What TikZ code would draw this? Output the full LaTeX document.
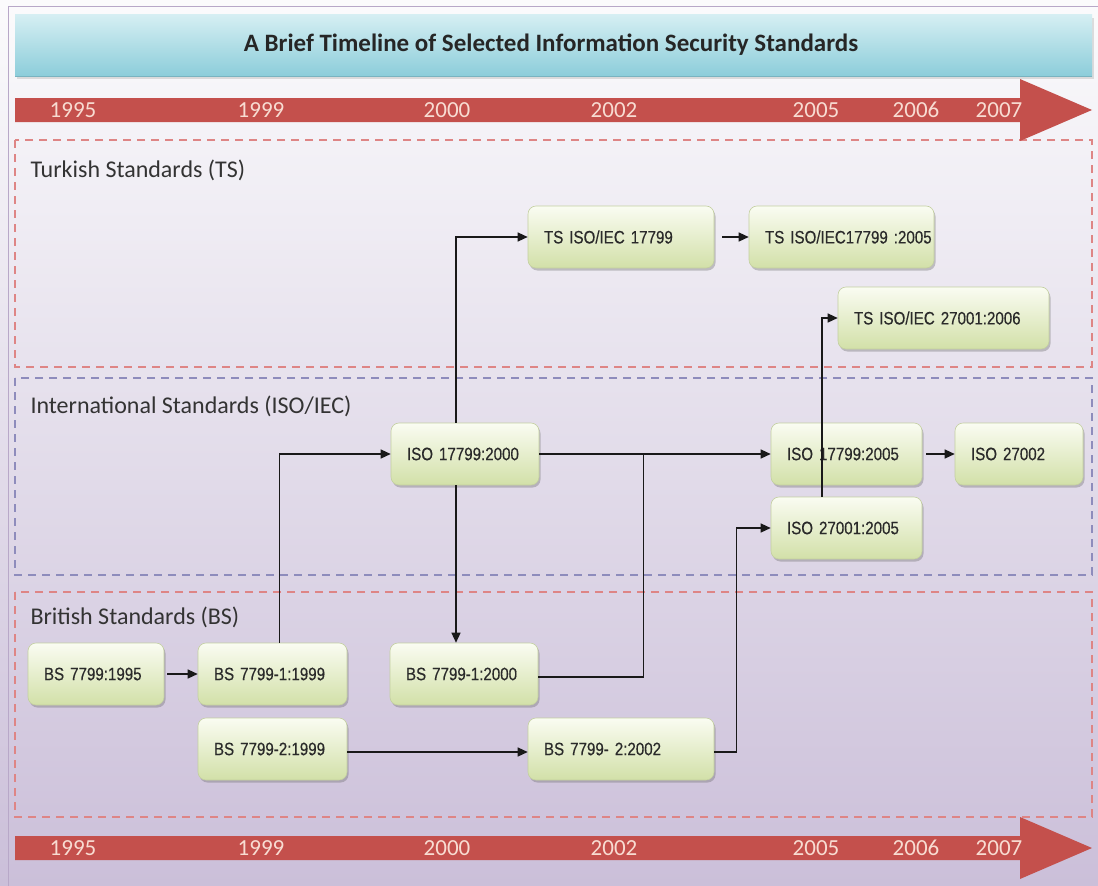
\documentclass[tikz,border=0pt]{standalone}
\usepackage{fontspec}
\setmainfont{Carlito}
\newfontfamily\nodefont[FakeStretch=0.84, FakeBold=0.4, WordSpace=0.65]{Liberation Sans}
\usetikzlibrary{arrows.meta,shadows,calc}

\definecolor{bgtop}{HTML}{FBFBFC}
\definecolor{bgbot}{HTML}{CBBFD9}
\definecolor{frame}{HTML}{B8A8C8}
\definecolor{titletop}{HTML}{D6EFF3}
\definecolor{titlebot}{HTML}{8CCDDA}
\definecolor{titleedge}{HTML}{79B3C0}
\definecolor{timeline}{HTML}{C4504C}
\definecolor{yeartext}{HTML}{F8DCD2}
\definecolor{dashred}{HTML}{DE8585}
\definecolor{dashblue}{HTML}{8E8CBC}
\definecolor{boxtop}{HTML}{FAFCF2}
\definecolor{boxbot}{HTML}{D2E0A8}
\definecolor{boxedge}{HTML}{C3CFA0}
\definecolor{ink}{HTML}{2A2A2A}

\tikzset{
  std/.style={rounded corners=8pt, minimum height=62pt, inner xsep=16pt,
    text width=#1, align=left, font=\nodefont\fontsize{18}{20}\selectfont,
    text=ink, top color=boxtop, bottom color=boxbot, draw=boxedge, line width=0.6pt,
    drop shadow={shadow xshift=1.5pt, shadow yshift=-2.5pt, opacity=0.35, fill=black!60}},
  link/.style={line width=1.3pt, draw=black!90},
  flow/.style={link, -{Triangle[length=10pt,width=9pt]}},
  lane/.style={dashed, dash pattern=on 8pt off 6pt, line width=1.3pt},
  lanelabel/.style={anchor=west, font=\fontsize{24}{28}\selectfont, text=black!80},
  year/.style={font=\fontsize{23}{26}\selectfont, text=yeartext}
}

\begin{document}
\begin{tikzpicture}[x=1pt,y=-1pt]
\useasboundingbox (0,0) rectangle (1098,886);

% page background and frame
\shade[top color=bgtop, bottom color=bgbot] (0,0) rectangle (1098,886);
\draw[frame, line width=1pt] (8,886) -- (8,6) -- (1098,6);

% title bar
\fill[black!25, opacity=0.5] (17,18) rectangle (1094,79);
\shade[top color=titletop, bottom color=titlebot] (15,14) rectangle (1092,76);
\draw[titleedge, line width=1pt] (15,76) -- (1092,76);
\node (title) at (551,45) {\fontsize{25}{30}\selectfont\bfseries\color{black!85}A Brief Timeline of Selected Information Security Standards};

% swimlanes
\draw[lane, dashred] (15,140) rectangle (1092,367);
\draw[lane, dashblue] (15,378) rectangle (1092,575);
\draw[lane, dashred] (15,592) rectangle (1092,817);
\node[lanelabel] (lts) at (27,170) {Turkish Standards (TS)};
\node[lanelabel] (liso) at (27,406) {International Standards (ISO/IEC)};
\node[lanelabel] (lbs) at (27,617) {British Standards (BS)};

% timelines
\foreach \yc/\nm in {110/top, 848/bot}{
  \fill[timeline] (15,\yc-12) -- (1020,\yc-12) -- (1020,\yc-31) -- (1092,\yc)
     -- (1020,\yc+31) -- (1020,\yc+12) -- (15,\yc+12) -- cycle;
  \foreach \xc/\yr in {73/1995, 261/1999, 447/2000, 614/2002, 816/2005, 916/2006, 999/2007}
    \node[year] (y\yr\nm) at (\xc,\yc) {\yr};
}

% standards
\node[std=154pt] (ts1) at (621,237) {TS ISO/IEC 17799};
\node[std=153pt] (ts2) at (841.5,237) {\mbox{TS ISO/IEC17799 :2005}};
\node[std=179pt] (ts3) at (943.5,318) {TS ISO/IEC 27001:2006};

\node[std=116pt] (iso1) at (465,454) {ISO 17799:2000};
\node[std=119pt] (iso2) at (846.5,454) {ISO 17799:2005};
\node[std=96pt] (iso3) at (1019,454) {ISO 27002};
\node[std=119pt] (iso4) at (846.5,528) {ISO 27001:2005};

\node[std=104pt] (bs1) at (96,674) {BS 7799:1995};
\node[std=117pt] (bs2) at (272.5,674) {BS 7799-1:1999};
\node[std=116pt] (bs3) at (464,674) {BS 7799-1:2000};
\node[std=117pt] (bs4) at (272.5,749) {BS 7799-2:1999};
\node[std=154pt] (bs5) at (621,749) {BS 7799- 2:2002};

% connectors
\draw[flow, shorten <=3pt] (bs1.east) -- (bs2.west);
\draw[flow] ([xshift=7pt]bs2.north) |- (iso1.west);
\draw[flow] ([xshift=-9pt]iso1.north) |- (ts1.west);
\draw[flow] ([xshift=-9pt]iso1.south) -- ([xshift=-9pt]iso1.south |- bs3.north);
\draw[flow] (iso1.east) -- (iso2.west);
\draw[link] ([yshift=-3pt]bs3.east) -| ($(iso1.east)!0.45!(iso2.west)$);
\draw[flow, shorten <=8pt] (ts1.east) -- (ts2.west);
\draw[flow, shorten <=4pt] (iso2.east) -- (iso3.west);
\draw[flow] ([yshift=-3pt]bs4.east) -- ([yshift=-3pt]bs5.west);
\draw[flow] ([yshift=-3pt]bs5.east) -- ++(22,0) |- (iso4.west);
\draw[flow] ([xshift=-24.5pt]iso4.north) |- (ts3.west);
\end{tikzpicture}
\end{document}
